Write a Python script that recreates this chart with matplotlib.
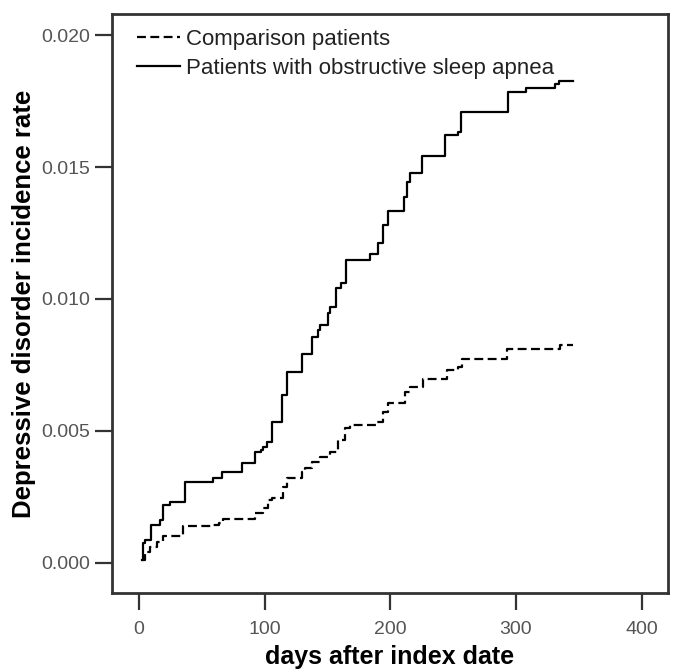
import matplotlib
matplotlib.use("Agg")
import matplotlib.pyplot as plt

plt.rcParams['font.family'] = ['Liberation Sans', 'DejaVu Sans']

# days and cumulative incidence (step changes)
osa_days = [2, 3, 5, 9.3, 16.7, 19.4, 25, 36.6, 59, 65.8, 81.7, 92.3, 97, 99, 102,
            105.6, 113.5, 114, 117.5, 129.4, 137.4, 142.7, 144, 150.6, 152, 156.5,
            160.4, 164.4, 183.8, 190.4, 194.4, 197.8, 211, 213, 215.6, 225.4, 243.4,
            253.5, 256, 294, 308, 331, 334, 345]
osa_rate = [0.0001, 0.00075, 0.00087, 0.00144, 0.00163, 0.0022, 0.00232, 0.00308,
            0.00322, 0.00346, 0.00378, 0.00422, 0.00428, 0.0044, 0.00459, 0.00535,
            0.00605, 0.00636, 0.00725, 0.00792, 0.00855, 0.00883, 0.00902, 0.00946,
            0.0097, 0.0104, 0.0106, 0.01148, 0.0117, 0.01213, 0.0128, 0.01333,
            0.01387, 0.01444, 0.01478, 0.01543, 0.01621, 0.01634, 0.0171, 0.01785,
            0.0180, 0.01815, 0.01826, 0.01826]

cmp_days = [2, 5, 8.7, 14, 19.4, 35, 58, 64, 67, 92.3, 99, 103, 105.6, 114.8, 117.5,
            129.4, 132, 137.4, 144, 152, 158.6, 164, 168, 189, 194.4, 198.3, 211.6,
            215.6, 226, 244.8, 254, 256.7, 292.5, 335, 345]
cmp_rate = [0.0001, 0.00043, 0.00062, 0.0008, 0.001, 0.00138, 0.00144, 0.0015,
            0.00165, 0.00188, 0.00207, 0.00239, 0.00245, 0.00289, 0.00321, 0.00346,
            0.00359, 0.00384, 0.004, 0.00422, 0.00466, 0.0051, 0.00523, 0.00535,
            0.00573, 0.00605, 0.00649, 0.00668, 0.00696, 0.00731, 0.00744, 0.00772,
            0.0081, 0.00826, 0.00826]

x_ticks = [0, 100, 200, 300, 400]
y_ticks = [0.000, 0.005, 0.010, 0.015, 0.020]


def main():
    fig = plt.figure(figsize=(6.73, 6.72), dpi=100)
    ax = fig.add_axes([0.1664, 0.1176, 0.8262, 0.8616])

    ax.step(cmp_days, cmp_rate, where='post', color='black', lw=1.6,
            linestyle=(0, (4, 2)), label='Comparison patients')
    ax.step(osa_days, osa_rate, where='post', color='black', lw=1.6,
            label='Patients with obstructive sleep apnea')

    ax.set_xlim(-21.5, 421)
    ax.set_ylim(-0.00114, 0.0208)
    ax.set_xticks(x_ticks)
    ax.set_yticks(y_ticks)
    ax.set_yticklabels([f"{v:.3f}" for v in y_ticks])

    for s in ax.spines.values():
        s.set_linewidth(2)
        s.set_color('#333333')
    ax.tick_params(direction='out', length=12, width=1.6, color='#333333',
                   labelsize=14, labelcolor='#555555')
    ax.tick_params(axis='x', pad=8)

    ax.set_xlabel('days after index date', fontsize=18, fontweight='bold', labelpad=5)
    ax.set_ylabel('Depressive disorder incidence rate', fontsize=18.5, fontweight='bold',
                  labelpad=4)

    leg = ax.legend(loc='upper left', bbox_to_anchor=(18 / 556, 1 - 8.5 / 579),
                    frameon=False, fontsize=16, handlelength=1.95,
                    handletextpad=0.28, borderaxespad=0, labelspacing=0.35,
                    borderpad=0.3)
    for t in leg.get_texts():
        t.set_color('#222222')

    fig.savefig('out.png', dpi=100)


if __name__ == "__main__":
    main()
